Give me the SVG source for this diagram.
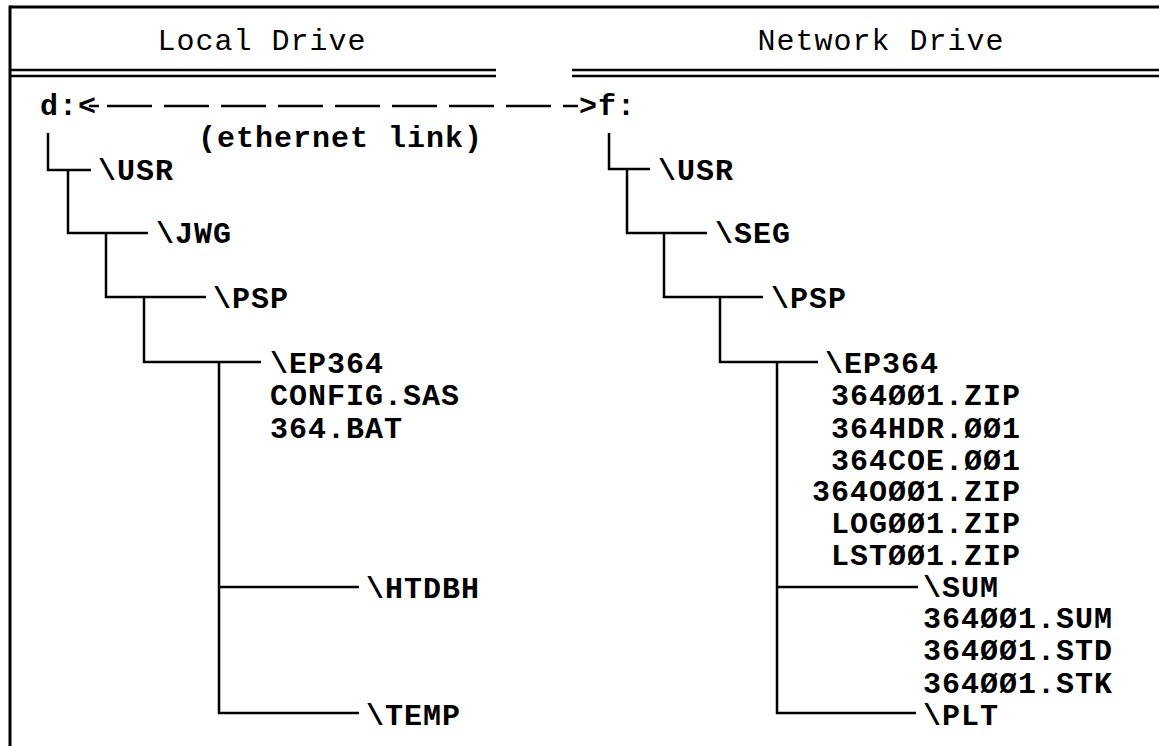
<svg xmlns="http://www.w3.org/2000/svg" width="1159" height="746" viewBox="0 0 1159 746">
<style>
  text { font-family: "Liberation Mono", "DejaVu Sans Mono", monospace; font-size: 30px; letter-spacing: 1px; font-weight: bold; fill: #000; }
  .hdr { text-anchor: middle; font-weight: normal; }
  .r { text-anchor: end; }
  .ln { stroke: #000; stroke-width: 2.5; fill: none; }
  .frame { stroke: #000; stroke-width: 3; fill: none; }
  .dash { stroke: #000; stroke-width: 2.5; stroke-dasharray: 45 12; fill: none; }
</style>
<rect width="1159" height="746" fill="#fff"/>
<g id="frame">
  <line class="frame" x1="10" y1="7" x2="1159" y2="7"/>
  <line class="frame" x1="10" y1="5.5" x2="10" y2="746"/>
  <line class="ln" x1="10" y1="70" x2="496" y2="70"/>
  <line class="ln" x1="10" y1="76" x2="496" y2="76"/>
  <line class="ln" x1="572" y1="70" x2="1159" y2="70"/>
  <line class="ln" x1="572" y1="76" x2="1159" y2="76"/>
</g>
<g id="header-local"><text class="hdr" x="262" y="50">Local Drive</text></g>
<g id="header-network"><text class="hdr" x="881" y="50">Network Drive</text></g>

<g id="connectors">
  <line class="ln" x1="89" y1="106" x2="99" y2="106"/>
  <line class="dash" x1="107" y1="106" x2="578" y2="106"/>
  <!-- local tree -->
  <path class="ln" d="M48 133 V170 H91"/>
  <path class="ln" d="M68 170 V233 H148"/>
  <path class="ln" d="M106 233 V297 H206"/>
  <path class="ln" d="M144 297 V362 H261"/>
  <path class="ln" d="M219 362 V713 H359"/>
  <path class="ln" d="M219 587 H359"/>
  <!-- network tree -->
  <path class="ln" d="M609 133 V169 H650"/>
  <path class="ln" d="M627 169 V233 H707"/>
  <path class="ln" d="M664 233 V297 H763"/>
  <path class="ln" d="M720 297 V362 H818"/>
  <path class="ln" d="M777 362 V713 H916"/>
  <path class="ln" d="M777 587 H918"/>
</g>

<g id="drive-d"><text x="40" y="115">d:&lt;</text></g>
<g id="drive-f"><text x="579" y="115">&gt;f:</text></g>
<g id="link-label"><text x="198" y="147">(ethernet link)</text></g>

<g id="local-usr"><text x="98" y="180">\USR</text></g>
<g id="local-jwg"><text x="156" y="243">\JWG</text></g>
<g id="local-psp"><text x="213" y="308">\PSP</text></g>
<g id="local-ep364">
  <text x="270" y="373">\EP364</text>
  <text x="270" y="405">CONFIG.SAS</text>
  <text x="270" y="438">364.BAT</text>
</g>
<g id="local-htdbh"><text x="366" y="598">\HTDBH</text></g>
<g id="local-temp"><text x="366" y="725">\TEMP</text></g>

<g id="net-usr"><text x="658" y="180">\USR</text></g>
<g id="net-seg"><text x="715" y="243">\SEG</text></g>
<g id="net-psp"><text x="771" y="308">\PSP</text></g>
<g id="net-ep364">
  <text x="825" y="373">\EP364</text>
  <text class="r" x="1021" y="405">364ØØ1.ZIP</text>
  <text class="r" x="1021" y="438">364HDR.ØØ1</text>
  <text class="r" x="1021" y="470">364COE.ØØ1</text>
  <text class="r" x="1021" y="501">364OØØ1.ZIP</text>
  <text class="r" x="1021" y="533">LOGØØ1.ZIP</text>
  <text class="r" x="1021" y="565">LSTØØ1.ZIP</text>
</g>
<g id="net-sum">
  <text x="923" y="597">\SUM</text>
  <text x="923" y="628">364ØØ1.SUM</text>
  <text x="923" y="660">364ØØ1.STD</text>
  <text x="923" y="693">364ØØ1.STK</text>
</g>
<g id="net-plt"><text x="923" y="725">\PLT</text></g>
</svg>
